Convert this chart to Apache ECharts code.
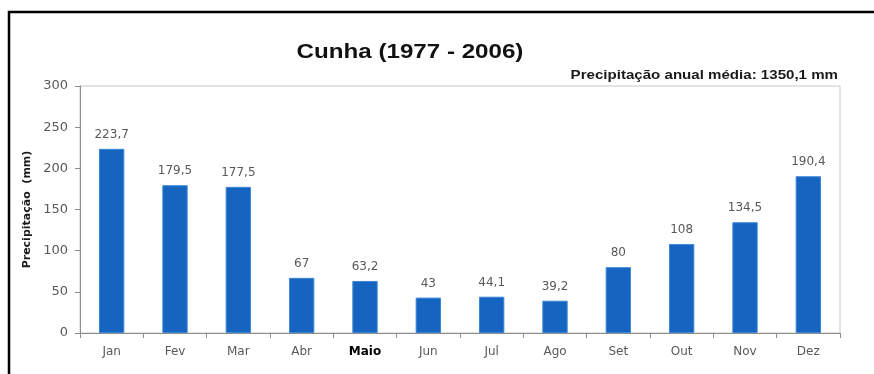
<!DOCTYPE html>
<html>
<head>
<meta charset="utf-8">
<title>Cunha (1977 - 2006)</title>
<script src="https://cdn.jsdelivr.net/npm/echarts@6/dist/echarts.min.js"></script>
<style>
  html, body { margin: 0; padding: 0; background: #ffffff; }
  #chart { width: 874px; height: 374px; }
</style>
</head>
<body>
<div id="chart"></div>
<script>
// Monthly mean rainfall, Cunha 1977-2006
const months = ['Jan', 'Fev', 'Mar', 'Abr', 'Maio', 'Jun', 'Jul', 'Ago', 'Set', 'Out', 'Nov', 'Dez'];
const rainfall = [223.7, 179.5, 177.5, 67, 63.2, 43, 44.1, 39.2, 80, 108, 134.5, 190.4];
const yTicks = [0, 50, 100, 150, 200, 250, 300];
const titleText = 'Cunha (1977 - 2006)';
const annualText = 'Precipitação anual média: 1350,1 mm';
const yAxisTitle = 'Precipitação  (mm)';
const highlightMonth = 'Maio';

const fmt = v => String(v).replace('.', ',');

const chart = echarts.init(document.getElementById('chart'), null, { renderer: 'canvas' });

chart.setOption({
  backgroundColor: '#ffffff',
  animation: false,
  grid: {
    left: 80, right: 34, top: 86, bottom: 41,
    show: true,
    borderColor: '#c8c8c8',
    borderWidth: 1,
    backgroundColor: 'transparent'
  },
  graphic: [
    {
      type: 'rect',
      shape: { x: 9, y: 12, width: 900, height: 400 },
      style: { fill: 'none', stroke: '#000000', lineWidth: 2.5 },
      silent: true
    },
    {
      type: 'text',
      x: 410, y: 52,
      scaleX: 1.15,
      style: {
        text: titleText,
        font: 'bold 21px "Liberation Sans", Arial, sans-serif',
        fill: '#111111',
        textAlign: 'center',
        textVerticalAlign: 'middle'
      }
    },
    {
      type: 'text',
      x: 838, y: 75,
      scaleX: 1.16,
      style: {
        text: annualText,
        font: 'bold 13px "Liberation Sans", Arial, sans-serif',
        fill: '#1a1a1a',
        textAlign: 'right',
        textVerticalAlign: 'middle'
      }
    }
  ],
  xAxis: {
    type: 'category',
    data: months,
    boundaryGap: true,
    axisLine: { show: true, lineStyle: { color: '#8c8c8c', width: 1 } },
    axisTick: { show: true, alignWithLabel: false, interval: 0, length: 5, lineStyle: { color: '#8c8c8c' } },
    axisLabel: {
      interval: 0,
      margin: 13,
      fontFamily: '"DejaVu Sans", sans-serif',
      fontSize: 12,
      color: '#595959',
      formatter: v => v === highlightMonth ? '{b|' + v + '}' : v,
      rich: {
        b: { fontFamily: '"DejaVu Sans", sans-serif', fontSize: 12, fontWeight: 'bold', color: '#000000' }
      }
    }
  },
  yAxis: {
    type: 'value',
    min: yTicks[0],
    max: yTicks[yTicks.length - 1],
    interval: yTicks[1] - yTicks[0],
    name: yAxisTitle,
    nameLocation: 'middle',
    nameRotate: 90,
    nameGap: 47,
    nameTextStyle: {
      fontFamily: '"DejaVu Sans", sans-serif',
      fontSize: 11,
      fontWeight: 'bold',
      color: '#1a1a1a'
    },
    axisLine: { show: true, lineStyle: { color: '#8c8c8c', width: 1 } },
    axisTick: { show: true, inside: false, length: 5, lineStyle: { color: '#8c8c8c' } },
    splitLine: { show: false },
    axisLabel: {
      margin: 12,
      fontFamily: '"DejaVu Sans", sans-serif',
      fontSize: 13,
      color: '#595959'
    }
  },
  series: [
    {
      type: 'bar',
      data: rainfall,
      barWidth: '40%',
      itemStyle: { color: '#1565c0', borderColor: '#3d86d6', borderWidth: 1 },
      label: {
        show: true,
        position: 'top',
        distance: 8,
        fontFamily: '"DejaVu Sans", sans-serif',
        fontSize: 12,
        color: '#595959',
        formatter: p => fmt(p.value)
      }
    }
  ]
});
</script>
</body>
</html>
